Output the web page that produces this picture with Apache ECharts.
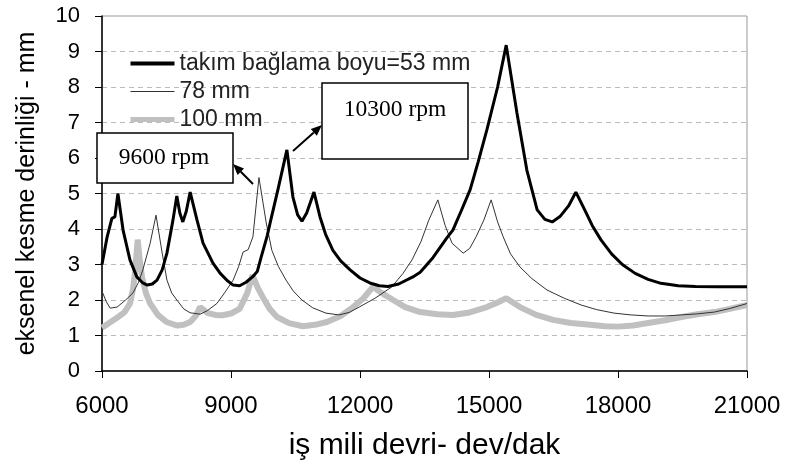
<!DOCTYPE html>
<html>
<head>
<meta charset="utf-8">
<script src="https://cdn.jsdelivr.net/npm/echarts@6/dist/echarts.min.js"></script>
<style>
html,body{margin:0;padding:0;background:#fff;}
#chart{width:785px;height:467px;}
</style>
</head>
<body>
<div id="chart"></div>
<script>
// ---- data ----
const seriesNames = ['takım bağlama boyu=53 mm', '78 mm', '100 mm'];
const xTicks = [6000, 9000, 12000, 15000, 18000, 21000];

const rpm53 = [6000,6120,6230,6300,6370,6490,6650,6810,6950,7050,7170,7280,7400,7510,7650,7740,7810,7880,7960,8050,8210,8350,8580,8750,8910,9050,9200,9350,9500,9610,9700,9840,9910,10090,10300,10440,10550,10650,10760,10930,11070,11200,11370,11550,11770,12000,12230,12450,12650,12900,13230,13400,13700,14020,14160,14350,14560,14750,14950,15200,15400,15650,15880,16120,16300,16470,16650,16850,17020,17200,17400,17600,17850,18100,18400,18700,19000,19400,19800,20300,21000];
const d53   = [3.0,3.78,4.3,4.34,5.0,3.97,3.13,2.65,2.48,2.42,2.45,2.56,2.85,3.32,4.25,4.93,4.45,4.2,4.5,5.04,4.25,3.6,3.04,2.75,2.55,2.42,2.4,2.5,2.65,2.8,3.2,3.8,4.17,5.1,6.23,4.9,4.4,4.22,4.45,5.04,4.34,3.85,3.4,3.1,2.85,2.62,2.48,2.4,2.38,2.45,2.65,2.78,3.2,3.75,3.97,4.5,5.1,5.9,6.79,8.0,9.18,7.27,5.66,4.54,4.27,4.2,4.35,4.65,5.04,4.6,4.1,3.7,3.3,3.0,2.75,2.58,2.47,2.4,2.38,2.37,2.37];

const rpm78 = [6000,6100,6190,6350,6550,6720,6850,6950,7120,7256,7400,7510,7620,7740,7900,8050,8280,8450,8670,8850,9050,9180,9280,9400,9510,9650,9820,9950,10100,10280,10450,10650,10900,11210,11510,11750,11980,12350,12740,13000,13210,13420,13600,13810,13980,14140,14400,14550,14700,14880,15050,15200,15330,15500,15720,16000,16350,16750,17140,17500,17910,18300,18700,19100,19470,19850,20240,20600,21000];
const d78   = [2.25,1.95,1.77,1.8,2.0,2.2,2.5,2.85,3.6,4.39,3.32,2.56,2.2,2.0,1.75,1.64,1.6,1.7,1.9,2.2,2.56,2.95,3.35,3.42,3.78,5.45,4.17,3.4,2.95,2.56,2.25,2.0,1.78,1.63,1.58,1.65,1.8,2.05,2.37,2.75,3.13,3.65,4.25,4.82,4.1,3.6,3.32,3.45,3.78,4.25,4.82,4.2,3.78,3.3,2.93,2.6,2.28,2.05,1.86,1.73,1.63,1.58,1.55,1.55,1.58,1.61,1.66,1.76,1.9];

const rpm100 = [6000,6200,6350,6520,6650,6720,6770,6830,6880,6930,7020,7120,7300,7500,7750,7900,8050,8180,8280,8460,8640,8800,9000,9200,9380,9500,9620,9740,9900,10070,10350,10670,10950,11230,11550,11840,12080,12300,12500,12770,13050,13400,13800,14160,14550,14950,15200,15400,15720,16100,16490,16900,17350,17700,18000,18350,18700,19100,19470,19850,20240,20600,21000];
const d100   = [1.22,1.38,1.5,1.65,1.9,2.3,2.8,3.7,3.1,2.65,2.2,1.9,1.58,1.38,1.28,1.3,1.38,1.55,1.8,1.63,1.58,1.57,1.62,1.75,2.2,2.7,2.35,2.08,1.75,1.52,1.35,1.26,1.3,1.38,1.55,1.8,2.05,2.37,2.2,2.0,1.8,1.66,1.6,1.58,1.65,1.8,1.93,2.05,1.8,1.58,1.44,1.35,1.3,1.26,1.25,1.28,1.35,1.43,1.52,1.6,1.66,1.75,1.86];

const zip = (xs, ys) => xs.map((x, i) => [x, ys[i]]);

const chart = echarts.init(document.getElementById('chart'), null, {renderer: 'canvas'});
const sans = 'Liberation Sans, Arial, sans-serif';
const serif = 'Liberation Serif, Times New Roman, serif';

chart.setOption({
  animation: false,
  backgroundColor: '#fff',
  grid: {left: 102, right: 38, top: 16, bottom: 96, show: true, borderColor: '#999', borderWidth: 1, backgroundColor: 'transparent'},
  legend: {
    data: [
      {name: seriesNames[0], lineStyle: {color: '#000', width: 4}},
      {name: seriesNames[1], lineStyle: {color: '#333', width: 1}},
      {name: seriesNames[2], lineStyle: {color: '#c0c0c0', width: 5}}
    ],
    orient: 'vertical',
    left: 123, top: 47,
    itemWidth: 44, itemHeight: 14, itemGap: 5,
    itemStyle: {opacity: 0},
    textStyle: {fontFamily: sans, fontSize: 23, color: '#222'}
  },
  xAxis: {
    type: 'value', min: xTicks[0], max: xTicks[xTicks.length - 1], interval: 3000,
    name: 'iş mili devri- dev/dak', nameLocation: 'middle', nameGap: 60,
    nameTextStyle: {fontFamily: sans, fontSize: 30, color: '#000'},
    axisLine: {show: true, lineStyle: {color: '#000', width: 1.5}},
    axisTick: {show: true, inside: false, length: 7, lineStyle: {color: '#000'}},
    axisLabel: {fontFamily: sans, fontSize: 24, color: '#000', margin: 23, formatter: v => String(v)},
    splitLine: {show: false}
  },
  yAxis: {
    type: 'value', min: 0, max: 10, interval: 1,
    name: 'eksenel kesme derinliği - mm', nameLocation: 'middle', nameGap: 62,
    nameTextStyle: {fontFamily: sans, fontSize: 25, color: '#000'},
    axisLine: {show: true, lineStyle: {color: '#000', width: 1.5}},
    axisTick: {show: true, inside: false, length: 7, lineStyle: {color: '#000'}},
    axisLabel: {fontFamily: sans, fontSize: 22, color: '#000', margin: 22},
    splitLine: {show: true, showMinLine: false, showMaxLine: false, lineStyle: {color: '#bbb', type: [5, 4], width: 1}}
  },
  series: [
    {name: seriesNames[2], type: 'line', data: zip(rpm100, d100), symbol: 'none', z: 2,
     lineStyle: {color: '#c0c0c0', width: 6}, itemStyle: {color: '#c0c0c0'}},
    {name: seriesNames[1], type: 'line', data: zip(rpm78, d78), symbol: 'none', z: 3,
     lineStyle: {color: '#333', width: 1}, itemStyle: {color: '#333'}},
    {name: seriesNames[0], type: 'line', data: zip(rpm53, d53), symbol: 'none', z: 4,
     lineStyle: {color: '#000', width: 3}, itemStyle: {color: '#000'}}
  ],
  graphic: [
    {type: 'rect', shape: {x: 97, y: 133, width: 136, height: 50}, style: {fill: '#fff', stroke: '#000', lineWidth: 1.5}, z: 100},
    {type: 'text', x: 164, y: 158, style: {text: '9600 rpm', font: '23.5px ' + serif, fill: '#000', align: 'center', verticalAlign: 'middle'}, z: 101},
    {type: 'rect', shape: {x: 322, y: 83, width: 146, height: 76}, style: {fill: '#fff', stroke: '#000', lineWidth: 1.5}, z: 100},
    {type: 'text', x: 395, y: 110, style: {text: '10300 rpm', font: '23.5px ' + serif, fill: '#000', align: 'center', verticalAlign: 'middle'}, z: 101},
    {type: 'line', shape: {x1: 253, y1: 184, x2: 240.8, y2: 171.8}, style: {stroke: '#000', lineWidth: 2}, z: 101},
    {type: 'polygon', shape: {points: [[233,164],[244,168.6],[237.6,175]]}, style: {fill: '#000'}, z: 101},
    {type: 'line', shape: {x1: 293, y1: 151, x2: 313.8, y2: 132.4}, style: {stroke: '#000', lineWidth: 2}, z: 101},
    {type: 'polygon', shape: {points: [[322,125],[316.8,135.7],[310.8,129.0]]}, style: {fill: '#000'}, z: 101}
  ]
});
</script>
</body>
</html>
